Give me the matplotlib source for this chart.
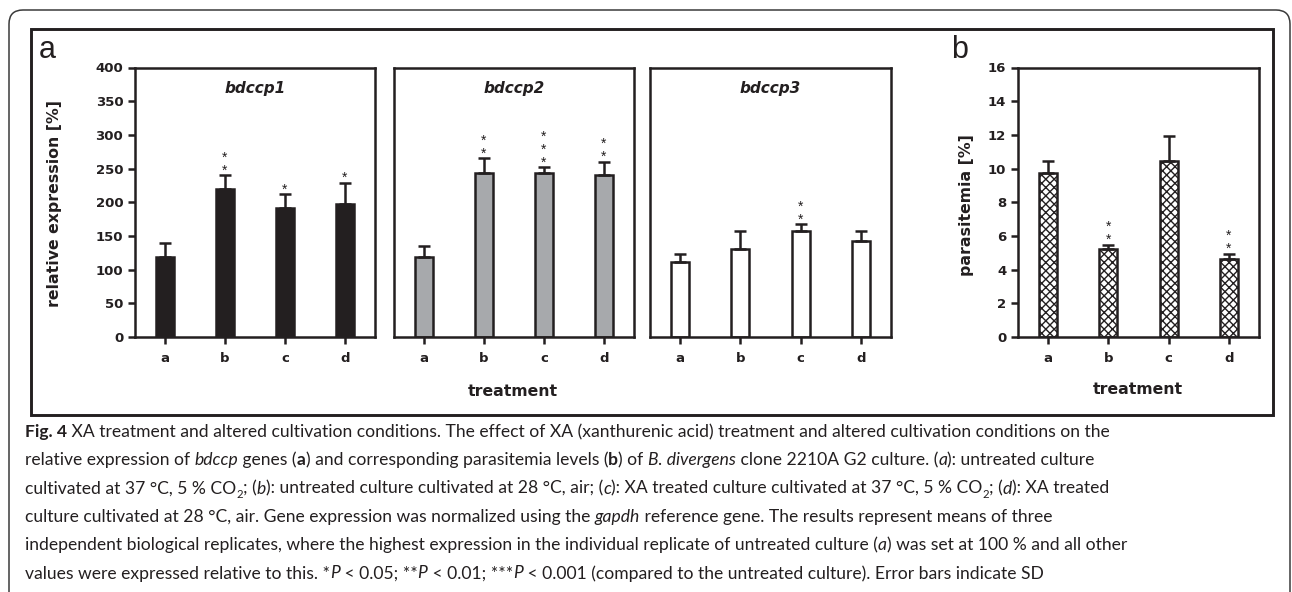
import matplotlib
matplotlib.use("Agg")
import matplotlib.pyplot as plt
from matplotlib.patches import FancyBboxPatch, Rectangle
from matplotlib.transforms import IdentityTransform
import numpy as np

# ---------------- data ----------------
treatments = ["a", "b", "c", "d"]
gene_names = ["bdccp1", "bdccp2", "bdccp3"]

bdccp1_mean = [118, 219, 191, 198]
bdccp1_sd = [22, 21, 21, 31]
bdccp1_sig = [0, 2, 1, 1]

bdccp2_mean = [118, 244, 243, 240]
bdccp2_sd = [17, 21, 9, 20]
bdccp2_sig = [0, 2, 3, 2]

bdccp3_mean = [112, 131, 157, 142]
bdccp3_sd = [11, 26, 10, 15]
bdccp3_sig = [0, 0, 2, 0]

parasitemia_mean = [9.74, 5.21, 10.45, 4.62]
parasitemia_sd = [0.69, 0.26, 1.46, 0.32]
parasitemia_sig = [0, 2, 0, 2]

expr_ticks = [0, 50, 100, 150, 200, 250, 300, 350, 400]
para_ticks = [0, 2, 4, 6, 8, 10, 12, 14, 16]

caption_lines = [
    [("Fig. 4", "b"), (" XA treatment and altered cultivation conditions. The effect of XA (xanthurenic acid) treatment and altered cultivation conditions on the", "n")],
    [("relative expression of ", "n"), ("bdccp", "i"), (" genes (", "n"), ("a", "b"), (") and corresponding parasitemia levels (", "n"), ("b", "b"), (") of ", "n"), ("B. divergens", "i"), (" clone 2210A G2 culture. (", "n"), ("a", "i"), ("): untreated culture", "n")],
    [("cultivated at 37 °C, 5 % CO", "n"), ("2", "s"), ("; (", "n"), ("b", "i"), ("): untreated culture cultivated at 28 °C, air; (", "n"), ("c", "i"), ("): XA treated culture cultivated at 37 °C, 5 % CO", "n"), ("2", "s"), ("; (", "n"), ("d", "i"), ("): XA treated", "n")],
    [("culture cultivated at 28 °C, air. Gene expression was normalized using the ", "n"), ("gapdh", "i"), (" reference gene. The results represent means of three", "n")],
    [("independent biological replicates, where the highest expression in the individual replicate of untreated culture (", "n"), ("a", "i"), (") was set at 100 % and all other", "n")],
    [("values were expressed relative to this. *", "n"), ("P", "i"), (" < 0.05; **", "n"), ("P", "i"), (" < 0.01; ***", "n"), ("P", "i"), (" < 0.001 (compared to the untreated culture). Error bars indicate SD", "n")],
]

# ---------------- style ----------------
W, H = 1292, 592
DARK = "#231f20"
LW = 1.8
CHART_FONT = "DejaVu Sans"
STAR_FONT = "Liberation Sans"
CAP_FONT = "Lato"

plt.rcParams["hatch.linewidth"] = 1.0
plt.rcParams["hatch.color"] = DARK

fig = plt.figure(figsize=(W / 100, H / 100), dpi=100)


def rect(l, t, r, b):
    return [l / W, 1 - b / H, (r - l) / W, (b - t) / H]


def fx(x):
    return x / W


def fy(y):
    return 1 - y / H


def style_axes(ax, yticks, show_y):
    for sp in ax.spines.values():
        sp.set_linewidth(LW)
        sp.set_color(DARK)
    ax.set_xlim(-0.5, 3.5)
    ax.set_xticks(range(len(treatments)))
    ax.set_xticklabels(treatments, fontsize=9.5, fontweight="bold", family=CHART_FONT, color=DARK)
    ax.tick_params(axis="x", direction="out", length=5, width=LW, color=DARK, pad=6)
    ax.set_ylim(yticks[0], yticks[-1])
    if show_y:
        ax.set_yticks(yticks)
        ax.set_yticklabels([str(v) for v in yticks], fontsize=9.5, fontweight="bold", family=CHART_FONT, color=DARK)
        ax.tick_params(axis="y", direction="out", length=5, width=LW, color=DARK, pad=3.5)
    else:
        ax.set_yticks([])


def draw_bars(ax, mean, sd, sig, face, hatch=None):
    x = np.arange(len(mean))
    ax.bar(x, mean, 0.3, color=face, edgecolor=DARK, linewidth=LW, hatch=hatch, zorder=2)
    ax.errorbar(x, mean, yerr=[np.zeros(len(sd)), sd], fmt="none", ecolor=DARK,
                elinewidth=LW, capsize=4, capthick=LW, zorder=3)
    for xi, m, s, n in zip(x, mean, sd, sig):
        if n > 0:
            ax.annotate("\n".join(["*"] * n), xy=(xi, m + s), xytext=(0, 0.5),
                        textcoords="offset points", ha="center", va="baseline",
                        multialignment="center", linespacing=0.9,
                        fontsize=10, family=STAR_FONT, color=DARK)


ax1 = fig.add_axes(rect(135, 67.5, 375, 337))
ax2 = fig.add_axes(rect(394, 67.5, 634, 337))
ax3 = fig.add_axes(rect(650, 67.5, 891, 337))
axb = fig.add_axes(rect(1018, 67.5, 1259, 337))

draw_bars(ax1, bdccp1_mean, bdccp1_sd, bdccp1_sig, DARK)
draw_bars(ax2, bdccp2_mean, bdccp2_sd, bdccp2_sig, "#a7a9ac")
draw_bars(ax3, bdccp3_mean, bdccp3_sd, bdccp3_sig, "white")
draw_bars(axb, parasitemia_mean, parasitemia_sd, parasitemia_sig, "white", hatch="xxxx")

style_axes(ax1, expr_ticks, True)
style_axes(ax2, expr_ticks, False)
style_axes(ax3, expr_ticks, False)
style_axes(axb, para_ticks, True)

for ax, name in zip([ax1, ax2, ax3], gene_names):
    ax.text(0.5, 0.922, name, transform=ax.transAxes, ha="center", va="center",
            fontsize=11, fontweight="bold", fontstyle="italic", family=CHART_FONT, color=DARK)

# axis labels
LABEL_SIZE = 11.3
fig.text(fx(55), fy(204), "relative expression [%]", rotation=90, ha="center", va="center",
         fontsize=LABEL_SIZE, fontweight="bold", family=CHART_FONT, color=DARK)
fig.text(fx(967), fy(205), "parasitemia [%]", rotation=90, ha="center", va="center",
         fontsize=LABEL_SIZE, fontweight="bold", family=CHART_FONT, color=DARK)
fig.text(fx(513), fy(391), "treatment", ha="center", va="center",
         fontsize=LABEL_SIZE, fontweight="bold", family=CHART_FONT, color=DARK)
fig.text(fx(1138), fy(389), "treatment", ha="center", va="center",
         fontsize=LABEL_SIZE, fontweight="bold", family=CHART_FONT, color=DARK)

# panel letters
fig.text(fx(39), fy(58), "a", ha="left", va="baseline", fontsize=22, family=STAR_FONT, color=DARK)
fig.text(fx(951), fy(58), "b", ha="left", va="baseline", fontsize=22, family=STAR_FONT, color=DARK)

# frames
fig.add_artist(Rectangle((31, H - 415), 1273 - 31, 415 - 29, transform=IdentityTransform(),
                         fill=False, lw=2.1, ec=DARK))
fig.add_artist(FancyBboxPatch((9, -60), 1281, H - 10 + 60,
                              boxstyle="round,pad=0,rounding_size=14",
                              transform=IdentityTransform(), fill=False, lw=1.1, ec="#3a3a3a"))

# caption
renderer = fig.canvas.get_renderer()


def kw_for(style, size):
    kw = dict(family=CAP_FONT, fontsize=size, color="#231f20")
    if style == "b":
        kw["fontweight"] = "bold"
    elif style == "i":
        kw["fontstyle"] = "italic"
    elif style == "s":
        kw["fontsize"] = size * 0.65
    return kw


def seg_width(s, kw):
    t = fig.text(0, 0, "|" + s + "|", **kw)
    w1 = t.get_window_extent(renderer).width
    t.remove()
    t = fig.text(0, 0, "||", **kw)
    w0 = t.get_window_extent(renderer).width
    t.remove()
    return w1 - w0


base = 10.0
w_line1 = sum(seg_width(s, kw_for(st, base)) for s, st in caption_lines[0])
cap_size = base * (1085.0 / w_line1)

x0 = 25
for k, line in enumerate(caption_lines):
    baseline = 437 + 28.3 * k
    x = x0
    for s, st in line:
        kw = kw_for(st, cap_size)
        yb = baseline + (0.25 * cap_size * 100 / 72 if st == "s" else 0)
        fig.text(fx(x), fy(yb), s, ha="left", va="baseline", **kw)
        x += seg_width(s, kw)

fig.savefig("out.png", dpi=100)
